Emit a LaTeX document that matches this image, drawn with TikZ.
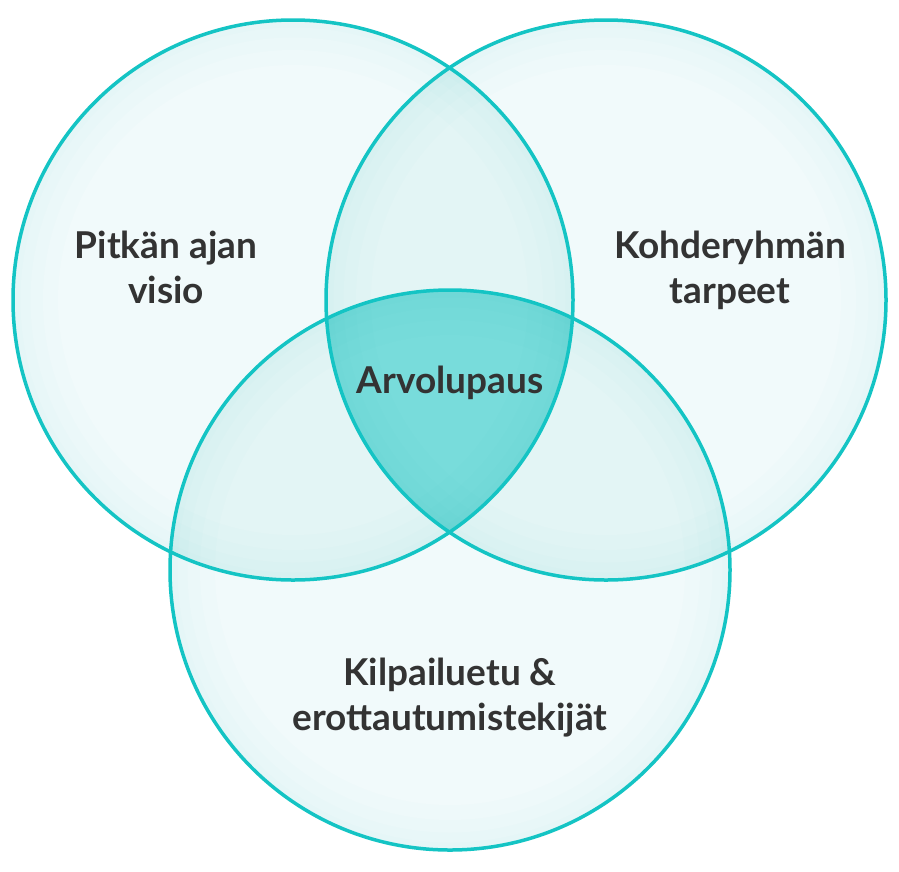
\documentclass[tikz,border=0pt]{standalone}
\usepackage{fontspec}
\setmainfont{Lato}
\definecolor{Rim}{HTML}{14C4C4}
\definecolor{OneSet}{HTML}{F1FAFB}
\definecolor{TwoSet}{HTML}{E3F5F5}
\definecolor{AllSet}{HTML}{78DCDB}
\definecolor{Ink}{HTML}{333333}

\begin{document}
\begin{tikzpicture}[x=1pt, y=-1pt,
  rim/.style={draw=Rim, line width=3.5pt},
  glow/.style={draw=Rim, opacity=0.013},
  caption/.style={anchor=base, align=center, text=Ink, inner sep=0pt,
    font=\fontsize{37}{45}\selectfont\bfseries}]

 %%%%%%%%%% Frame %%%%%%%%%%
 \useasboundingbox (0,0) rectangle (899,871);
 \fill [white] (0,0) rectangle (899,871);

 %%%%%%%%%% Centres of the circles %%%%%%%%%%
 \coordinate (L) at (293,300);
 \coordinate (R) at (606,300);
 \coordinate (B) at (450,570);
 \def\rad{280}

 %%%%%%%%%% Single layers %%%%%%%%%%
 \fill [OneSet] (L) circle (\rad);
 \fill [OneSet] (R) circle (\rad);
 \fill [OneSet] (B) circle (\rad);

 %%%%%%%%%% Pair overlaps %%%%%%%%%%
 \begin{scope}
  \clip (L) circle (\rad);
  \fill [TwoSet] (R) circle (\rad);
  \fill [TwoSet] (B) circle (\rad);
 \end{scope}
 \begin{scope}
  \clip (R) circle (\rad);
  \fill [TwoSet] (B) circle (\rad);
 \end{scope}

 %%%%%%%%%% Triple overlap %%%%%%%%%%
 \begin{scope}
  \clip (L) circle (\rad);
  \clip (R) circle (\rad);
  \fill [AllSet] (B) circle (\rad);
 \end{scope}

 %%%%%%%%%% Soft inner glow %%%%%%%%%%
 \foreach \c in {L,R,B}
 {
  \begin{scope}
   \clip (\c) circle (\rad);
   \foreach \w in {90,60,35,15}
    \draw [glow, line width=\w pt] (\c) circle (\rad);
  \end{scope}
 }

 %%%%%%%%%% Rims %%%%%%%%%%
 \draw [rim] (L) circle (\rad);
 \draw [rim] (R) circle (\rad);
 \draw [rim] (B) circle (\rad);

 %%%%%%%%%% Texts %%%%%%%%%%
 \node [caption] (vision) at (166,303) {Pitkän ajan\\visio};
 \node [caption] (needs) at (730,303) {Kohderyhmän\\tarpeet};
 \node [caption] (value) at (450,393) {Arvolupaus};
 \node [caption] (edge) at (450,730) {Kilpailuetu \&\\erottautumistekijät};

\end{tikzpicture}
\end{document}
